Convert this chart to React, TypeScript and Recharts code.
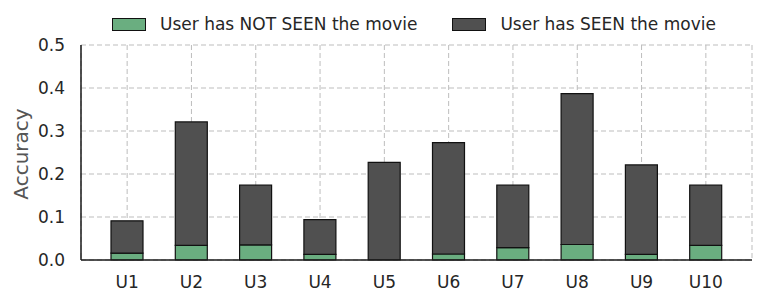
import React from "react";
import {
  BarChart,
  Bar,
  XAxis,
  YAxis,
  CartesianGrid,
} from "recharts";

const users = ["U1", "U2", "U3", "U4", "U5", "U6", "U7", "U8", "U9", "U10"];
// accuracy when the user has not seen the movie (bottom segment)
const notSeen = [0.016, 0.034, 0.035, 0.013, 0.0, 0.014, 0.029, 0.036, 0.013, 0.034];
// remaining accuracy when the user has seen the movie (stacked on top)
const seen = [0.075, 0.287, 0.139, 0.081, 0.227, 0.259, 0.145, 0.351, 0.208, 0.14];
const yTicks = [0, 0.1, 0.2, 0.3, 0.4, 0.5];

const COLOR_NOT_SEEN = "#6aae80";
const COLOR_SEEN = "#505050";
const TEXT = "#262626";
const FONT = "'DejaVu Sans', sans-serif";

const data = users.map((u, i) => ({ user: u, notSeen: notSeen[i], seen: seen[i] }));

function LegendBox() {
  const item = (color: string, text: string, gapAfter: number) => (
    <div style={{ display: "flex", alignItems: "center", marginRight: gapAfter }}>
      <div
        style={{
          width: 32,
          height: 11,
          background: color,
          border: "1px solid #111",
          marginRight: 14,
        }}
      />
      <span style={{ fontSize: 17, color: TEXT, fontFamily: FONT, lineHeight: "20px" }}>
        {text}
      </span>
    </div>
  );
  return (
    <div
      style={{
        position: "absolute",
        top: 14,
        left: 112,
        display: "flex",
        zIndex: 2,
      }}
    >
      {item(COLOR_NOT_SEEN, "User has NOT SEEN the movie", 35)}
      {item(COLOR_SEEN, "User has SEEN the movie", 0)}
    </div>
  );
}

export default function App() {
  return (
    <div
      style={{
        position: "absolute",
        left: 0,
        top: 0,
        width: 764,
        height: 304,
        background: "#fff",
      }}
    >
      <LegendBox />
      <BarChart
        width={764}
        height={304}
        data={data}
        margin={{ top: 45, right: 12, left: 0, bottom: 14 }}
        barSize={32}
      >
        <CartesianGrid stroke="#bdbdbd" strokeDasharray="5 3" strokeWidth={1} />
        <XAxis
          dataKey="user"
          padding={{ left: 14, right: 14 }}
          height={30}
          tickLine={false}
          tickSize={6}
          tickMargin={10}
          axisLine={{ stroke: "#1a1a1a", strokeWidth: 1.5 }}
          tick={{ fontSize: 17, fill: TEXT, fontFamily: FONT }}
        />
        <XAxis
          xAxisId="top"
          orientation="top"
          height={0}
          tick={false}
          tickLine={false}
          axisLine={{ stroke: "#cccccc", strokeWidth: 1.5 }}
        />
        <YAxis
          domain={[0, 0.5]}
          ticks={yTicks}
          width={81}
          tickLine={false}
          tickSize={6}
          tickMargin={10}
          tickFormatter={(v: number) => v.toFixed(1)}
          axisLine={{ stroke: "#1a1a1a", strokeWidth: 1.5 }}
          tick={{ fontSize: 17, fill: TEXT, fontFamily: FONT }}
          label={{
            content: () => (
              <text
                x={21}
                y={154}
                transform="rotate(-90 21 154)"
                textAnchor="middle"
                dominantBaseline="central"
                fontSize={20}
                fill="#555555"
                fontFamily={FONT}
              >
                Accuracy
              </text>
            ),
          }}
        />
        <YAxis
          yAxisId="right"
          orientation="right"
          width={0}
          tick={false}
          tickLine={false}
          axisLine={{ stroke: "#cccccc", strokeWidth: 1.5 }}
        />
        <Bar
          dataKey="notSeen"
          stackId="a"
          fill={COLOR_NOT_SEEN}
          stroke="#111"
          strokeWidth={1.2}
          isAnimationActive={false}
        />
        <Bar
          dataKey="seen"
          stackId="a"
          fill={COLOR_SEEN}
          stroke="#111"
          strokeWidth={1.2}
          isAnimationActive={false}
        />
      </BarChart>
    </div>
  );
}
